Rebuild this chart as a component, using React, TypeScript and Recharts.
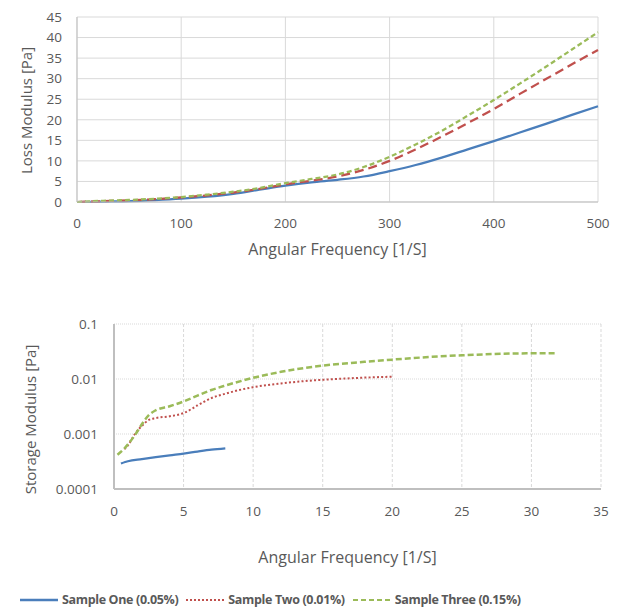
import React from 'react';
import { LineChart, Line, XAxis, YAxis, CartesianGrid, Label, Legend } from 'recharts';

// ---- Loss modulus chart data ----
const lossFreq = [0, 25, 50, 75, 100, 125, 150, 175, 200, 225, 250, 275, 300, 325, 350, 375, 400, 425, 450, 475, 500];
const lossSampleOne = [0, 0.1, 0.2, 0.45, 0.8, 1.3, 2.0, 3.0, 4.0, 4.8, 5.4, 6.2, 7.5, 9.0, 10.8, 12.8, 14.8, 16.9, 19.0, 21.2, 23.3];
const lossSampleTwo = [0, 0.2, 0.4, 0.7, 1.1, 1.6, 2.3, 3.2, 4.3, 5.2, 6.2, 7.8, 10.0, 12.8, 15.9, 19.2, 22.6, 26.3, 29.9, 33.5, 37.0];
const lossSampleThree = [0, 0.3, 0.5, 0.8, 1.2, 1.8, 2.5, 3.4, 4.6, 5.6, 6.7, 8.5, 11.0, 14.0, 17.3, 21.0, 24.8, 28.8, 32.9, 37.1, 41.3];
const lossTicksX = [0, 100, 200, 300, 400, 500];
const lossTicksY = [0, 5, 10, 15, 20, 25, 30, 35, 40, 45];

// ---- Storage modulus chart data ----
const storageFreqOne = [0.5, 0.8, 1, 2, 3, 4, 5, 6, 7, 8];
const storageSampleOne = [0.00029, 0.00031, 0.00032, 0.00035, 0.00038, 0.00041, 0.00044, 0.00048, 0.00052, 0.00055];
const storageFreqTwo = [0.75, 1, 1.5, 2, 2.5, 3, 4, 5, 6, 7, 8, 9, 10, 12, 14, 16, 18, 20];
const storageSampleTwo = [0.00053, 0.00062, 0.001, 0.0014, 0.0018, 0.00195, 0.0021, 0.0024, 0.0033, 0.0045, 0.0054, 0.0063, 0.0071, 0.0083, 0.0093, 0.0100, 0.0106, 0.0110];
const storageFreqThree = [0.25, 0.7, 1, 1.5, 2, 2.5, 3, 4, 5, 6, 7, 8, 10, 12, 15, 18, 20, 22, 25, 28, 30, 31.7];
const storageSampleThree = [0.00042, 0.00053, 0.00065, 0.00095, 0.0015, 0.0022, 0.0027, 0.0032, 0.0039, 0.005, 0.0063, 0.0076, 0.0105, 0.0135, 0.0175, 0.0205, 0.0225, 0.0245, 0.027, 0.0288, 0.0293, 0.0293];
const storageTicksX = [0, 5, 10, 15, 20, 25, 30, 35];
const storageTicksY = [0.0001, 0.001, 0.01, 0.1];

const seriesNames = ['Sample One (0.05%)', 'Sample Two (0.01%)', 'Sample Three (0.15%)'];
const seriesColors = ['#4a7ebb', '#c0504d', '#9bbb59'];
const legendDash = ['', '2 2', '5 3'];

const lossData = lossFreq.map((f, i) => ({ f, a: lossSampleOne[i], b: lossSampleTwo[i], c: lossSampleThree[i] }));
const toPts = (xs: number[], ys: number[]) => xs.map((x, i) => ({ x, y: ys[i] }));
const storageOne = toPts(storageFreqOne, storageSampleOne);
const storageTwo = toPts(storageFreqTwo, storageSampleTwo);
const storageThree = toPts(storageFreqThree, storageSampleThree);

const FONT = '"Open Sans", sans-serif';
const TEXT = '#595959';
const tickStyle = { fill: TEXT, fontSize: 13.5, fontFamily: FONT };

const XTitle = (dx: number, dy: number, text: string) => (props: any) => {
  const vb = props.viewBox || {};
  return (
    <text x={vb.x + vb.width / 2 + dx} y={vb.y + dy} textAnchor="middle" fill={TEXT} fontSize={16} fontFamily={FONT}>
      {text}
    </text>
  );
};
const YTitle = (cx: number, dy: number, text: string) => (props: any) => {
  const vb = props.viewBox || {};
  const cy = vb.y + vb.height / 2 + dy;
  return (
    <text x={cx} y={cy} transform={`rotate(-90 ${cx} ${cy})`} textAnchor="middle" dominantBaseline="central" fill={TEXT} fontSize={15} fontFamily={FONT}>
      {text}
    </text>
  );
};

const LegendContent = () => (
  <div style={{ display: 'flex', alignItems: 'center', fontFamily: FONT, fontSize: 12.5, fontWeight: 700, letterSpacing: -0.35, color: TEXT, whiteSpace: 'nowrap' }}>
    {seriesNames.map((n, i) => (
      <div key={n} style={{ display: 'flex', alignItems: 'center', marginRight: 8 }}>
        <svg width={38} height={6} style={{ marginRight: 4 }}>
          <line x1={0} y1={3} x2={38} y2={3} stroke={seriesColors[i]} strokeWidth={i === 0 ? 2.5 : 2} strokeDasharray={legendDash[i] || undefined} />
        </svg>
        <span>{n}</span>
      </div>
    ))}
  </div>
);

export default function App() {
  return (
    <div style={{ position: 'absolute', left: 0, top: 0, width: 638, height: 610, background: '#fff' }}>
      <div style={{ position: 'absolute', left: 0, top: 0 }}>
        <LineChart width={638} height={270} data={lossData} margin={{ top: 17, right: 40, bottom: 10, left: 0 }}>
          <CartesianGrid stroke="#d9d9d9" strokeWidth={1} />
          <XAxis dataKey="f" type="number" domain={[0, 500]} ticks={lossTicksX} tickLine={false} tickSize={0} tickMargin={16}
            axisLine={{ stroke: '#bfbfbf' }} tick={tickStyle} height={58} interval={0}>
            <Label content={XTitle(0, 53, 'Angular Frequency [1/S]')} />
          </XAxis>
          <YAxis type="number" domain={[0, 45]} ticks={lossTicksY} tickLine={false} tickSize={0} tickMargin={15}
            axisLine={{ stroke: '#bfbfbf' }} tick={tickStyle} width={77} interval={0}>
            <Label content={YTitle(26, 1, 'Loss Modulus [Pa]')} />
          </YAxis>
          <Line type="monotone" dataKey="a" stroke={seriesColors[0]} strokeWidth={2.25} dot={false} isAnimationActive={false} />
          <Line type="monotone" dataKey="b" stroke={seriesColors[1]} strokeWidth={2.25} strokeDasharray="9 5" dot={false} isAnimationActive={false} />
          <Line type="monotone" dataKey="c" stroke={seriesColors[2]} strokeWidth={2.25} strokeDasharray="5 3" dot={false} isAnimationActive={false} />
        </LineChart>
      </div>
      <div style={{ position: 'absolute', left: 0, top: 300 }}>
        <LineChart width={638} height={310} margin={{ top: 24, right: 37, bottom: 45, left: 0 }}>
          <CartesianGrid stroke="#d9d9d9" strokeDasharray="1 1" vertical={false} />
          <CartesianGrid stroke="#d9d9d9" strokeDasharray="3 2" horizontal={false} />
          <XAxis dataKey="x" type="number" domain={[0, 35]} ticks={storageTicksX} tickLine={false} tickSize={0} tickMargin={17}
            axisLine={{ stroke: '#bfbfbf', strokeWidth: 2 }} tick={tickStyle} height={76} interval={0} allowDuplicatedCategory={false}>
            <Label content={XTitle(-10, 74, 'Angular Frequency [1/S]')} />
          </XAxis>
          <YAxis type="number" scale="log" domain={[0.0001, 0.1]} ticks={storageTicksY} tickLine={false} tickSize={0} tickMargin={16}
            axisLine={{ stroke: '#bfbfbf', strokeWidth: 2 }} tick={tickStyle} width={114} interval={0} allowDataOverflow>
            <Label content={YTitle(30, 13, 'Storage Modulus [Pa]')} />
          </YAxis>
          <Line type="monotone" data={storageOne} dataKey="y" name={seriesNames[0]} stroke={seriesColors[0]} strokeWidth={2.25} dot={false} isAnimationActive={false} />
          <Line type="monotone" data={storageTwo} dataKey="y" name={seriesNames[1]} stroke={seriesColors[1]} strokeWidth={2} strokeDasharray="2 2.2" dot={false} isAnimationActive={false} />
          <Line type="monotone" data={storageThree} dataKey="y" name={seriesNames[2]} stroke={seriesColors[2]} strokeWidth={2.5} strokeDasharray="6 3" dot={false} isAnimationActive={false} />
          <Legend layout="horizontal" verticalAlign="middle" align="center" content={LegendContent}
            wrapperStyle={{ position: 'absolute', left: 20, top: 291, width: 600, height: 20 }} />
        </LineChart>
      </div>
    </div>
  );
}
